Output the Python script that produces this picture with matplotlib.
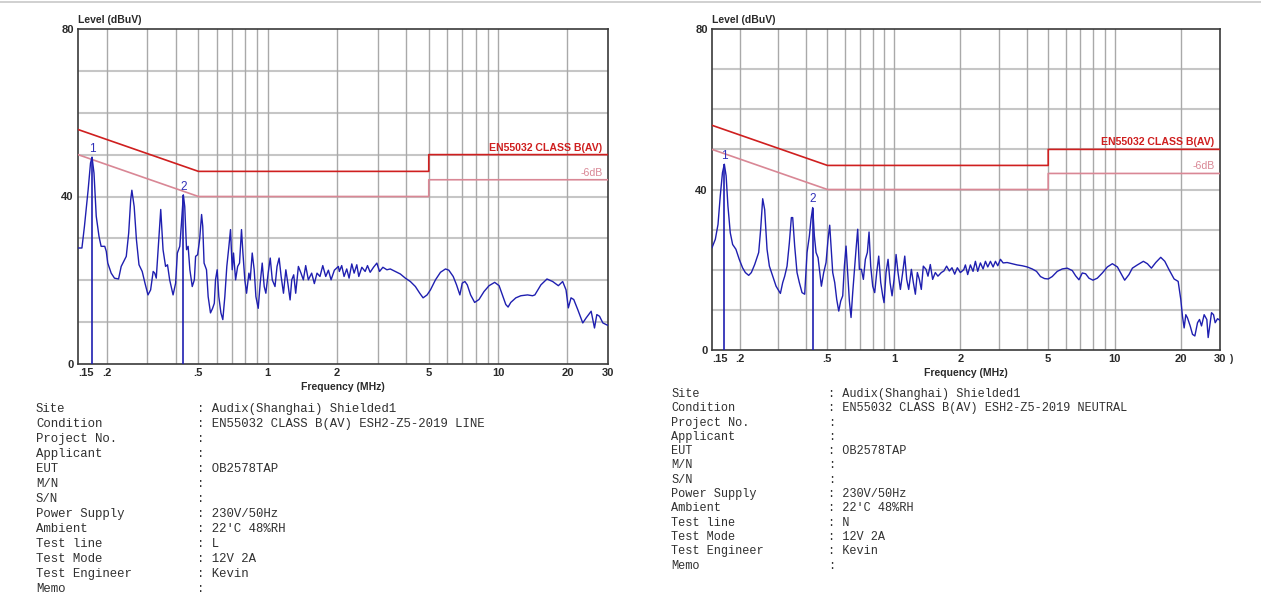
import matplotlib
matplotlib.use('Agg')
import matplotlib.pyplot as plt
from matplotlib.lines import Line2D
from matplotlib.ticker import NullLocator, FixedLocator, FixedFormatter

# ---------------- data ----------------
LEFT_FREQ = [0.150, 0.156, 0.160, 0.166, 0.170, 0.1726, 0.176, 0.180, 0.185, 0.189, 0.196, 0.199, 0.202,
             0.209, 0.216, 0.225, 0.231, 0.243, 0.249, 0.254, 0.257, 0.263, 0.269, 0.276, 0.285, 0.293,
             0.302, 0.310, 0.318, 0.323, 0.328, 0.334, 0.343, 0.351, 0.360, 0.367, 0.375, 0.388, 0.398,
             0.405, 0.415, 0.422, 0.430, 0.436, 0.444, 0.451, 0.459, 0.470, 0.480, 0.486, 0.496, 0.506,
             0.516, 0.522, 0.529, 0.542, 0.551, 0.564, 0.576, 0.586, 0.593, 0.603, 0.613, 0.626, 0.638,
             0.651, 0.664, 0.678, 0.689, 0.701, 0.710, 0.725, 0.740, 0.754, 0.769, 0.780, 0.795, 0.809,
             0.828, 0.839, 0.856, 0.873, 0.888, 0.909, 0.927, 0.946, 0.965, 0.981, 1.004, 1.025, 1.046,
             1.075, 1.097, 1.120, 1.143, 1.170, 1.198, 1.222, 1.250, 1.271, 1.296, 1.322, 1.358, 1.394,
             1.427, 1.461, 1.500, 1.551, 1.593, 1.636, 1.685, 1.733, 1.785, 1.833, 1.883, 1.946, 2.026,
             2.045, 2.094, 2.144, 2.202, 2.254, 2.316, 2.371, 2.435, 2.484, 2.561, 2.647, 2.710, 2.783,
             2.878, 2.976, 3.057, 3.161, 3.290, 3.402, 3.577, 3.762, 3.956, 4.159, 4.374, 4.569, 4.724,
             4.917, 5.085, 5.347, 5.621, 5.910, 6.111, 6.384, 6.600, 6.824, 6.986, 7.176, 7.348, 7.597,
             7.909, 8.261, 8.685, 9.135, 9.664, 10.10, 10.44, 10.80, 11.05, 11.35, 11.94, 12.55, 13.42,
             14.11, 14.44, 15.34, 16.30, 17.25, 18.26, 19.07, 19.72, 20.18, 20.73, 21.30, 22.17, 23.31,
             24.11, 25.35, 26.21, 26.83, 27.56, 28.50, 30.0]
LEFT_LEVEL = [27.7, 27.7, 32.9, 41.6, 48.0, 49.4, 45.6, 35.3, 30.5, 28.1, 28.1, 26.9, 24.1,
              21.7, 20.5, 20.3, 23.3, 25.7, 31.3, 39.2, 41.5, 37.6, 29.7, 23.7, 22.1, 19.3,
              16.5, 17.7, 22.1, 21.7, 20.5, 27.3, 36.9, 27.3, 23.3, 23.7, 20.1, 16.5, 19.3,
              26.5, 28.1, 33.7, 40.4, 37.6, 27.3, 28.1, 22.5, 18.5, 20.1, 25.7, 26.1, 29.7,
              35.7, 32.9, 24.1, 22.5, 16.1, 12.2, 13.3, 14.5, 20.1, 22.5, 16.1, 12.2, 10.6,
              16.1, 23.3, 28.1, 32.1, 22.5, 26.5, 20.1, 23.3, 24.1, 32.1, 26.5, 20.1, 16.9,
              21.7, 20.1, 26.5, 22.5, 16.1, 13.3, 19.3, 24.1, 18.5, 16.9, 21.7, 25.3, 20.1,
              18.5, 23.3, 25.3, 20.9, 16.9, 22.5, 19.3, 15.3, 20.1, 21.3, 16.9, 23.3, 21.7,
              20.1, 23.5, 20.1, 21.7, 19.2, 21.7, 20.9, 23.5, 20.9, 22.4, 20.1, 22.4, 23.3,
              22.1, 23.5, 20.9, 22.7, 20.5, 23.9, 21.7, 23.7, 20.9, 23.1, 22.1, 23.5, 21.9,
              23.1, 24.1, 22.1, 23.1, 22.5, 22.7, 22.1, 21.5, 20.5, 19.7, 18.5, 16.9, 15.8,
              16.5, 17.7, 20.1, 21.9, 22.7, 22.4, 20.9, 18.9, 16.5, 19.3, 19.7, 18.9, 16.5,
              14.7, 15.4, 17.3, 18.7, 19.5, 18.7, 16.5, 14.2, 13.6, 14.7, 15.8, 16.3, 16.5,
              16.3, 16.5, 18.9, 20.3, 19.7, 18.7, 19.7, 17.7, 13.4, 15.8, 15.4, 13.0, 9.8,
              11.0, 12.6, 8.6, 11.8, 11.4, 9.8, 9.2]

RIGHT_FREQ = [0.150, 0.1553, 0.1597, 0.1635, 0.1673, 0.1706, 0.1738, 0.1771, 0.1815, 0.1860, 0.1925,
              0.1993, 0.2063, 0.2124, 0.2199, 0.2261, 0.2341, 0.2441, 0.2492, 0.2545, 0.2598, 0.2663,
              0.2729, 0.2826, 0.2926, 0.3061, 0.3136, 0.3202, 0.3281, 0.3361, 0.3432, 0.3480, 0.3553,
              0.3641, 0.3730, 0.3836, 0.3944, 0.4042, 0.4141, 0.4214, 0.4288, 0.4363, 0.4440, 0.4534,
              0.4597, 0.4694, 0.4809, 0.4928, 0.5032, 0.5120, 0.5210, 0.5283, 0.5395, 0.5508, 0.5625,
              0.5743, 0.5864, 0.5967, 0.6071, 0.6199, 0.6286, 0.6396, 0.6508, 0.6645, 0.6738, 0.6856,
              0.6977, 0.7123, 0.7274, 0.7426, 0.7583, 0.7717, 0.7852, 0.8018, 0.8186, 0.8360, 0.8536,
              0.8716, 0.8900, 0.9025, 0.9214, 0.9409, 0.9608, 0.9810, 1.002, 1.023, 1.044, 1.070,
              1.096, 1.120, 1.143, 1.167, 1.200, 1.225, 1.251, 1.277, 1.304, 1.331, 1.359, 1.398,
              1.427, 1.462, 1.498, 1.540, 1.583, 1.640, 1.685, 1.733, 1.783, 1.833, 1.885, 1.938,
              2.000, 2.071, 2.108, 2.159, 2.220, 2.283, 2.340, 2.397, 2.465, 2.535, 2.598, 2.662,
              2.737, 2.814, 2.884, 2.955, 3.038, 3.124, 3.258, 3.432, 3.616, 3.810, 4.015, 4.231,
              4.426, 4.615, 4.812, 5.000, 5.213, 5.497, 5.789, 6.097, 6.426, 6.653, 6.890, 7.134,
              7.386, 7.648, 7.974, 8.345, 8.794, 9.267, 9.762, 10.29, 10.65, 11.10, 11.61, 12.03,
              12.67, 13.49, 14.07, 14.67, 15.35, 16.17, 16.87, 17.64, 18.59, 19.39, 19.93, 20.28,
              20.64, 21.00, 21.37, 21.98, 22.52, 23.08, 23.73, 24.23, 24.74, 25.43, 26.15, 26.52,
              27.08, 27.46, 28.04, 28.53, 29.24, 30.0]
RIGHT_LEVEL = [25.5, 27.6, 31.3, 38.4, 44.2, 46.3, 43.4, 35.9, 29.2, 26.3, 25.1,
               22.6, 20.5, 19.3, 18.6, 19.3, 21.3, 24.3, 30.1, 37.7, 35.0, 25.1,
               20.9, 18.4, 15.9, 14.1, 16.8, 18.4, 20.9, 26.7, 33.0, 33.0, 25.9,
               19.3, 16.8, 14.3, 13.9, 24.3, 28.4, 32.6, 35.5, 28.4, 24.3, 23.0,
               20.1, 15.9, 19.3, 21.8, 27.6, 31.1, 24.3, 19.3, 16.8, 12.6, 9.7,
               12.2, 13.5, 20.9, 25.9, 17.6, 12.2, 8.1, 14.3, 20.9, 25.1, 30.1,
               20.1, 20.1, 17.6, 22.6, 24.3, 29.4, 20.9, 15.9, 14.3, 19.3, 23.4,
               16.8, 13.5, 11.8, 19.3, 22.6, 16.8, 13.5, 17.6, 23.8, 19.3, 15.1,
               19.3, 23.4, 17.6, 15.1, 20.1, 16.8, 13.9, 19.3, 17.6, 15.1, 20.9, 20.1,
               18.4, 21.3, 17.6, 19.3, 18.4, 19.3, 19.7, 20.9, 19.7, 20.5, 18.9, 20.5,
               19.3, 20.0, 21.2, 18.8, 21.2, 19.6, 22.1, 19.6, 21.7, 20.2, 22.1, 20.7,
               22.1, 20.7, 22.1, 21.0, 22.6, 21.7, 21.8, 21.5, 21.2, 21.0, 20.7, 20.2,
               19.6, 18.3, 17.8, 17.7, 18.3, 19.6, 20.2, 20.4, 19.8, 18.5, 17.5, 19.2,
               19.0, 17.9, 17.4, 17.9, 19.2, 20.7, 21.5, 20.7, 19.2, 17.4, 18.8, 20.4,
               21.2, 22.1, 21.5, 20.4, 21.8, 23.1, 22.1, 20.0, 17.7, 17.1, 12.6, 8.4,
               5.5, 8.8, 8.0, 6.0, 3.9, 3.5, 6.8, 7.6, 6.0, 8.8, 7.6, 3.1,
               6.8, 9.3, 8.8, 6.8, 7.8, 7.4]

LEFT_MARKER_FREQ = [0.1726, 0.430]
LEFT_MARKER_LEVEL = [49.4, 40.4]
RIGHT_MARKER_FREQ = [0.1706, 0.4288]
RIGHT_MARKER_LEVEL = [46.3, 35.5]

LIMIT_FREQ = [0.15, 0.5, 5, 5, 30]
LIMIT_LEVEL = [56, 46, 46, 50, 50]
MARGIN_LEVEL = [50, 40, 40, 44, 44]
LIMIT_NAME = "EN55032 CLASS B(AV)"
MARGIN_NAME = "-6dB"

GRID_FREQ = [0.2, 0.3, 0.4, 0.5, 0.6, 0.7, 0.8, 0.9, 1, 2, 3, 4, 5, 6, 7, 8, 9, 10, 20]
GRID_LEVEL = [10, 20, 30, 40, 50, 60, 70]
XTICK_FREQ = [0.15, 0.2, 0.5, 1, 2, 5, 10, 20, 30]
XTICK_LABELS = [".15", ".2", ".5", "1", "2", "5", "10", "20", "30"]
YTICKS = [0, 40, 80]
YTICK_LABELS = ["0", "40", "80"]

INFO_KEYS = ["Site", "Condition", "Project No.", "Applicant", "EUT", "M/N", "S/N",
             "Power Supply", "Ambient", "Test line", "Test Mode", "Test Engineer", "Memo"]
LEFT_INFO = ["Audix(Shanghai) Shielded1", "EN55032 CLASS B(AV) ESH2-Z5-2019 LINE", "", "",
             "OB2578TAP", "", "", "230V/50Hz", "22'C 48%RH", "L", "12V 2A", "Kevin", ""]
RIGHT_INFO = ["Audix(Shanghai) Shielded1", "EN55032 CLASS B(AV) ESH2-Z5-2019 NEUTRAL", "", "",
              "OB2578TAP", "", "", "230V/50Hz", "22'C 48%RH", "N", "12V 2A", "Kevin", ""]

# ---------------- drawing ----------------
W, H = 1261, 610
SANS = 'Liberation Sans'
MONO = 'Liberation Mono'
TRACE = '#1f1fb0'
LIMIT_C = '#cf1f1f'
MARGIN_C = '#d98795'
TEXT_C = '#2a2a2a'

fig = plt.figure(figsize=(W / 100, H / 100), dpi=100)
fig.patch.set_facecolor('white')


def box(x0, y0, x1, y1):
    return [x0 / W, 1 - y1 / H, (x1 - x0) / W, (y1 - y0) / H]


def draw_chart(rect, freq, level, mfreq, mlevel):
    ax = fig.add_axes(rect)
    ax.set_xscale('log')
    ax.set_xlim(0.15, 30)
    ax.set_ylim(0, 80)
    for y in GRID_LEVEL:
        ax.axhline(y, color='#c6c6c6', lw=1.5, zorder=1)
    for f in GRID_FREQ:
        ax.axvline(f, color='#a9a9a9', lw=1.0, zorder=1)
    ax.plot(LIMIT_FREQ, LIMIT_LEVEL, color=LIMIT_C, lw=1.2, zorder=3)
    ax.plot(LIMIT_FREQ, MARGIN_LEVEL, color=MARGIN_C, lw=1.2, zorder=3)
    ax.plot(freq, level, color=TRACE, lw=1.0, zorder=4)
    ax.vlines(mfreq, 0, mlevel, color=TRACE, lw=1.2, zorder=4)
    for i, (f, l) in enumerate(zip(mfreq, mlevel)):
        ax.annotate(str(i + 1), (f, l), xytext=(0, 1.5), textcoords='offset points',
                    ha='center', va='bottom', color='#3030b8', fontsize=8.5, family=SANS)
    ax.annotate(LIMIT_NAME, (30, LIMIT_LEVEL[-1]), xytext=(-4, 1.5), textcoords='offset points',
                ha='right', va='bottom', color=LIMIT_C, fontsize=7.6, fontweight='bold', family=SANS)
    ax.annotate(MARGIN_NAME, (30, MARGIN_LEVEL[-1]), xytext=(-4, 1.5), textcoords='offset points',
                ha='right', va='bottom', color=MARGIN_C, fontsize=7.6, family=SANS)

    ax.xaxis.set_minor_locator(NullLocator())
    ax.xaxis.set_major_locator(FixedLocator(XTICK_FREQ))
    ax.xaxis.set_major_formatter(FixedFormatter(XTICK_LABELS))
    ax.set_yticks(YTICKS)
    ax.set_yticklabels(YTICK_LABELS)
    ax.tick_params(length=0, labelsize=8, pad=3)
    for lab in ax.get_xticklabels() + ax.get_yticklabels():
        lab.set_fontweight('bold')
        lab.set_family(SANS)
        lab.set_color(TEXT_C)
    ax.get_xticklabels()[0].set_horizontalalignment('left')
    for s in ax.spines.values():
        s.set_color('#3a3a3a')
        s.set_linewidth(1.2)
    ax.set_xlabel("Frequency (MHz)", fontsize=7.5, fontweight='bold', family=SANS,
                  color=TEXT_C, labelpad=3)
    ax.annotate("Level (dBuV)", (0, 1), xycoords='axes fraction', xytext=(0, 3),
                textcoords='offset points', ha='left', va='bottom', fontsize=7.5,
                fontweight='bold', family=SANS, color=TEXT_C)
    return ax


axL = draw_chart(box(78, 29, 608, 364), LEFT_FREQ, LEFT_LEVEL, LEFT_MARKER_FREQ, LEFT_MARKER_LEVEL)
axR = draw_chart(box(712, 29, 1220, 350), RIGHT_FREQ, RIGHT_LEVEL, RIGHT_MARKER_FREQ, RIGHT_MARKER_LEVEL)
axR.annotate(")", (1, 0), xycoords='axes fraction', xytext=(7, -3), textcoords='offset points',
             ha='left', va='top', fontsize=7, fontweight='bold', family=SANS, color=TEXT_C)


def info_block(x_key, x_colon, y0, dy, values, size):
    for i, (k, v) in enumerate(zip(INFO_KEYS, values)):
        y = 1 - (y0 + i * dy) / H
        fig.text(x_key / W, y, k, family=MONO, fontsize=size, va='center', ha='left', color='#303030')
        fig.text(x_colon / W, y, (": " + v) if v else ":", family=MONO, fontsize=size,
                 va='center', ha='left', color='#303030')


info_block(36, 197, 409, 15.0, LEFT_INFO, 8.95)
info_block(671, 828, 394, 14.3, RIGHT_INFO, 8.6)

fig.add_artist(Line2D([0, 1], [1 - 1.5 / H] * 2, color='#c8c8c8', lw=1.2))

fig.savefig('out.png', dpi=100, facecolor='white')
